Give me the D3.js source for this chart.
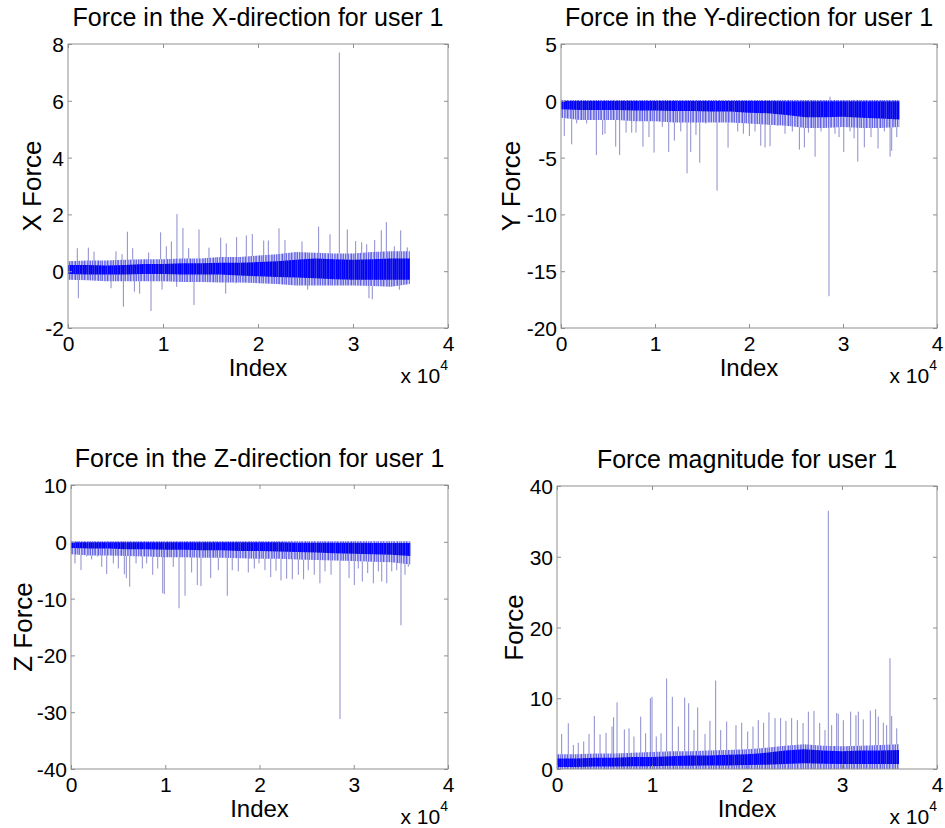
<!DOCTYPE html>
<html>
<head>
<meta charset="utf-8">
<script src="https://cdn.jsdelivr.net/npm/d3@7/dist/d3.min.js"></script>
<style>
  html, body { margin: 0; padding: 0; background: #fff; }
  svg { display: block; font-family: "Liberation Sans", Arial, Helvetica, sans-serif; }
</style>
</head>
<body>
<svg id="chart" width="945" height="828"></svg>
<script>
// ---------------- DATA ----------------
const indexTicks = [0, 10000, 20000, 30000, 40000];
const indexTickLabels = ["0", "1", "2", "3", "4"];
const titles = ["Force in the X-direction for user 1", "Force in the Y-direction for user 1",
                "Force in the Z-direction for user 1", "Force magnitude for user 1"];
const yLabels = ["X Force", "Y Force", "Z Force", "Force"];
const xLabel = "Index";

const xValueTicks = [-2, 0, 2, 4, 6, 8];
const yValueTicks = [-20, -15, -10, -5, 0, 5];
const zValueTicks = [-40, -30, -20, -10, 0, 10];
const magValueTicks = [0, 10, 20, 30, 40];

// envelope sample positions (index)
const envIndex = [0, 2000, 4000, 6000, 8000, 10000, 12000, 14000, 16000, 18000,
                  20000, 22000, 24000, 26000, 28000, 30000, 32000, 34000, 36000];

// X force: dense core band and light outer band
const xInnerHi = [0.22, 0.22, 0.2, 0.22, 0.25, 0.25, 0.28, 0.28, 0.3, 0.3, 0.32, 0.35, 0.4, 0.45, 0.42, 0.4, 0.42, 0.45, 0.45];
const xInnerLo = [-0.1, -0.12, -0.12, -0.12, -0.1, -0.1, -0.12, -0.12, -0.12, -0.15, -0.18, -0.2, -0.22, -0.25, -0.28, -0.3, -0.3, -0.3, -0.3];
const xOuterHi = [0.35, 0.38, 0.38, 0.4, 0.42, 0.42, 0.45, 0.45, 0.5, 0.5, 0.55, 0.6, 0.68, 0.65, 0.62, 0.62, 0.68, 0.7, 0.7];
const xOuterLo = [-0.3, -0.32, -0.35, -0.35, -0.35, -0.35, -0.38, -0.38, -0.4, -0.4, -0.42, -0.45, -0.5, -0.5, -0.5, -0.5, -0.52, -0.55, -0.45];
const xSpikes = [[980, 0.81], [2140, 0.83], [2740, 0.69], [5050, 0.7], [5690, 0.6], [6250, 1.39], [6810, 0.81],
  [8490, 0.66], [9750, 1.37], [10350, 0.88], [10880, 1.05], [11470, 2.01], [12100, 1.52], [12700, 0.81],
  [13790, 1.47], [14840, 0.83], [16070, 1.18], [16660, 0.98], [17750, 1.2], [18770, 1.26], [19400, 1.31],
  [20600, 1.08], [21090, 1.08], [22210, 1.51], [22840, 1.1], [24630, 1.05], [26380, 1.57], [27580, 1.3],
  [28560, 7.7], [29400, 1.47], [30280, 1.06], [30910, 1.02], [31440, 0.95], [32280, 1.1], [32980, 1.44],
  [33510, 1.73], [34350, 0.88], [35020, 1.44], [35720, 0.84],
  [1090, -0.95], [4530, -0.6], [5830, -1.25], [6990, -0.72], [7540, -0.79], [8740, -1.4], [9900, -0.65],
  [11440, -0.55], [13260, -1.19], [16600, -0.79], [17680, -0.42], [25230, -0.65], [31680, -0.95],
  [32030, -0.99], [34880, -0.65]];

// Y force
const yInnerHi = [-0.02, -0.02, -0.02, -0.02, -0.02, -0.02, -0.02, -0.02, -0.02, -0.02, -0.02, -0.02, -0.03, -0.05, -0.05, -0.05, -0.05, -0.05, -0.05];
const yInnerLo = [-0.75, -0.8, -0.8, -0.8, -0.85, -0.85, -0.9, -0.9, -0.95, -0.95, -1.05, -1.1, -1.25, -1.45, -1.45, -1.4, -1.5, -1.55, -1.65];
const yOuterHi = [0.08, 0.08, 0.08, 0.08, 0.08, 0.08, 0.08, 0.08, 0.08, 0.08, 0.08, 0.08, 0.08, 0.08, 0.08, 0.08, 0.08, 0.08, 0.08];
const yOuterLo = [-1.5, -1.7, -1.7, -1.7, -1.8, -1.8, -1.9, -1.9, -1.9, -1.9, -2.0, -2.1, -2.2, -2.4, -2.4, -2.3, -2.4, -2.4, -2.3];
const ySpikes = [[350, -3.1], [1140, -3.83], [1670, -1.98], [2730, -2.0], [3760, -4.77], [4430, -3.0],
  [4680, -2.9], [5820, -4.04], [6240, -4.77], [6920, -2.8], [7520, -2.8], [7980, -2.8], [8720, -4.04],
  [9360, -3.2], [9900, -4.56], [10780, -2.3], [11460, -4.5], [12060, -3.5], [12740, -2.7], [13410, -6.39],
  [13800, -4.5], [14360, -3.0], [14760, -5.45], [15400, -2.0], [16600, -7.91], [17770, -4.12], [18800, -2.7],
  [19400, -2.9], [20040, -3.1], [20640, -2.7], [21250, -3.95], [21710, -4.1], [22240, -4.0], [23010, -2.2],
  [23830, -2.9], [24610, -2.7], [25360, -4.3], [25890, -4.1], [26320, -2.8], [27030, -4.92], [27660, -2.7],
  [28510, -17.2], [29150, -2.9], [29580, -3.2], [30080, -4.5], [30750, -2.7], [31180, -3.3], [31570, -5.36],
  [32270, -4.1], [32980, -3.2], [33730, -4.2], [34400, -2.7], [35010, -4.92], [35180, -4.4], [35720, -3.2],
  [28620, 0.36]];

// Z force
const zInnerHi = [-0.1, -0.1, -0.1, -0.1, -0.1, -0.1, -0.1, -0.1, -0.1, -0.1, -0.1, -0.1, -0.15, -0.15, -0.15, -0.15, -0.2, -0.2, -0.2];
const zInnerLo = [-1.1, -1.2, -1.2, -1.3, -1.3, -1.4, -1.4, -1.5, -1.5, -1.6, -1.6, -1.7, -1.8, -1.9, -2.0, -2.1, -2.2, -2.3, -2.5];
const zOuterHi = [0.1, 0.1, 0.1, 0.1, 0.1, 0.1, 0.1, 0.1, 0.1, 0.1, 0.1, 0.1, 0.1, 0.1, 0.1, 0.1, 0.1, 0.1, 0.1];
const zOuterLo = [-2.2, -2.4, -2.4, -2.5, -2.6, -2.7, -2.7, -2.8, -2.8, -2.9, -3.0, -3.0, -3.1, -3.2, -3.3, -3.4, -3.5, -3.6, -4.0];
const zSpikes = [[420, -3.8], [1060, -4.97], [1660, -2.6], [2190, -3.1], [2790, -2.6], [3260, -4.4], [3790, -5.67],
  [4490, -3.8], [5020, -4.7], [5660, -5.7], [5870, -6.4], [6230, -7.9], [6900, -3.8], [7570, -4.7], [8030, -3.8],
  [8670, -5.8], [9200, -4.7], [9730, -9.07], [9900, -9.2], [10850, -4.4], [11460, -11.7], [12100, -9.5],
  [12800, -5.4], [13400, -7.6], [13790, -7.8], [14820, -6.4], [15630, -5.0], [16580, -9.5], [17110, -5.0],
  [17750, -5.2], [18810, -5.4], [19450, -4.7], [19950, -3.8], [20580, -5.0], [21190, -6.2], [21750, -5.1],
  [22280, -6.8], [22880, -6.5], [23480, -6.6], [24120, -5.8], [24680, -6.6], [25170, -5.0], [25810, -5.8],
  [26410, -7.3], [26950, -5.2], [27590, -5.8], [28540, -31.2], [29500, -6.4], [30060, -7.6], [30480, -4.7],
  [30910, -7.0], [31480, -5.5], [32080, -7.3], [32610, -5.2], [32970, -7.0], [33500, -7.3], [34030, -5.2],
  [34560, -5.0], [35010, -14.7], [35440, -5.8], [35790, -4.4]];

// Force magnitude
const mInnerHi = [1.5, 1.5, 1.6, 1.6, 1.7, 1.7, 1.8, 1.9, 1.9, 2.0, 2.1, 2.3, 2.6, 2.8, 2.6, 2.5, 2.6, 2.6, 2.7];
const mInnerLo = [0.3, 0.3, 0.35, 0.35, 0.4, 0.4, 0.45, 0.45, 0.5, 0.5, 0.55, 0.6, 0.7, 0.8, 0.75, 0.7, 0.7, 0.7, 0.7];
const mOuterHi = [2.1, 2.1, 2.2, 2.2, 2.3, 2.4, 2.5, 2.5, 2.6, 2.7, 2.8, 3.0, 3.3, 3.5, 3.3, 3.2, 3.3, 3.4, 3.5];
const mOuterLo = [0, 0, 0, 0, 0, 0, 0, 0, 0, 0, 0, 0, 0, 0, 0, 0, 0, 0, 0];
const mSpikes = [[490, 4.95], [1190, 6.46], [1720, 3.4], [2240, 3.7], [2810, 3.9], [3370, 4.95], [3930, 7.5],
  [4530, 4.9], [5160, 5.1], [5790, 6.0], [5960, 7.3], [6320, 9.43], [7090, 5.6], [7580, 5.75], [8100, 4.6],
  [8810, 7.4], [9330, 5.05], [9830, 10.0], [10000, 10.2], [10450, 4.6], [10950, 5.05], [11540, 12.8],
  [12140, 10.2], [12770, 6.0], [13440, 10.1], [13860, 9.3], [14420, 5.5], [14810, 8.7], [15580, 4.95],
  [16100, 6.8], [16700, 12.5], [17230, 5.5], [17860, 6.7], [18840, 6.2], [19440, 6.55], [20070, 5.3],
  [20630, 6.0], [21190, 6.9], [21750, 6.55], [22310, 8.0], [22950, 7.2], [23540, 7.2], [24100, 6.8],
  [24700, 7.2], [25300, 6.9], [25900, 6.5], [26460, 8.1], [27050, 8.2], [27650, 6.5], [28210, 5.5],
  [28560, 36.5], [28910, 6.2], [29440, 7.9], [29610, 7.8], [30140, 6.9], [30910, 8.1], [31470, 7.6],
  [31720, 8.1], [32240, 7.0], [32980, 8.25], [33540, 8.45], [33820, 7.4], [34350, 6.55], [34700, 6.2],
  [35050, 15.66], [35230, 7.5], [35760, 5.75]];

// ---------------- LAYOUT / STYLE ----------------
const panels = [
  { title: titles[0], ylabel: yLabels[0], domain: [-2, 8], ticks: xValueTicks,
    box: { l: 68, r: 448, t: 44, b: 328 }, base: 0.1,
    env: { ih: xInnerHi, il: xInnerLo, oh: xOuterHi, ol: xOuterLo }, spikes: xSpikes, ylabX: 41 },
  { title: titles[1], ylabel: yLabels[1], domain: [-20, 5], ticks: yValueTicks,
    box: { l: 561, r: 937, t: 44, b: 328 }, base: -0.5,
    env: { ih: yInnerHi, il: yInnerLo, oh: yOuterHi, ol: yOuterLo }, spikes: ySpikes, ylabX: 520 },
  { title: titles[2], ylabel: yLabels[2], domain: [-40, 10], ticks: zValueTicks,
    box: { l: 71, r: 448, t: 485, b: 769 }, base: -0.8,
    env: { ih: zInnerHi, il: zInnerLo, oh: zOuterHi, ol: zOuterLo }, spikes: zSpikes, ylabX: 32 },
  { title: titles[3], ylabel: yLabels[3], domain: [0, 40], ticks: magValueTicks,
    box: { l: 557, r: 937, t: 486, b: 769 }, base: 1.0,
    env: { ih: mInnerHi, il: mInnerLo, oh: mOuterHi, ol: mOuterLo }, spikes: mSpikes, ylabX: 523 }
];

const svg = d3.select("#chart");
const axisColor = "#8f8f8f";

// irregular stripe textures: a fill style that gives the bands a dense "many samples" look
const defs = svg.append("defs");
function stripes(id, cols) {
  const pat = defs.append("pattern").attr("id", id).attr("patternUnits", "userSpaceOnUse")
    .attr("width", cols.length).attr("height", 10);
  cols.forEach((c, i) => pat.append("rect").attr("x", i).attr("y", 0).attr("width", 1).attr("height", 10).attr("fill", c));
}
stripes("outerTex", ["#6a6ae4", "#b4b4f2", "#8686ea", "#7272e6", "#d0d0f6", "#9a9aee", "#5e5ee2",
  "#c0c0f4", "#8080e8", "#a6a6f0", "#6c6ce4", "#dadaf8", "#7c7ce8", "#9090ec", "#b8b8f2",
  "#6262e2", "#a0a0ee", "#cacaf6", "#7a7ae6", "#8e8eea", "#acacf0", "#6868e4", "#d4d4f6"]);
stripes("innerTex", ["#0000ff", "#1a1af2", "#0000fa", "#2c2cec", "#0808f6", "#0000ff", "#3636e8",
  "#0404fc", "#1212f4", "#0000ff", "#2424ee", "#0a0af8", "#4040e6", "#0000fc", "#1616f2",
  "#0000ff", "#2020f0", "#0606fa", "#3030ea"]);

panels.forEach((p, pi) => {
  const b = p.box;
  const x = d3.scaleLinear().domain([0, 40000]).range([b.l, b.r]);
  const y = d3.scaleLinear().domain(p.domain).range([b.b, b.t]);
  const g = svg.append("g");

  g.append("rect").attr("x", b.l).attr("y", b.t).attr("width", b.r - b.l).attr("height", b.b - b.t)
    .attr("fill", "#fff");

  const clipId = "clip" + pi;
  g.append("clipPath").attr("id", clipId).append("rect")
    .attr("x", b.l).attr("y", b.t).attr("width", b.r - b.l).attr("height", b.b - b.t);
  const plot = g.append("g").attr("clip-path", `url(#${clipId})`);

  const env = envIndex.map((ix, i) => ({ ix, ih: p.env.ih[i], il: p.env.il[i], oh: p.env.oh[i], ol: p.env.ol[i] }));

  // spikes
  plot.selectAll("line.spike").data(p.spikes).enter().append("line")
    .attr("class", "spike")
    .attr("x1", d => x(d[0])).attr("x2", d => x(d[0]))
    .attr("y1", y(p.base)).attr("y2", d => y(d[1]))
    .attr("stroke", "#7878c4").attr("stroke-width", 1).attr("stroke-opacity", 0.85);

  // outer (light) band
  plot.append("path").datum(env)
    .attr("d", d3.area().x(d => x(d.ix)).y0(d => y(d.ol)).y1(d => y(d.oh)))
    .attr("fill", "url(#outerTex)");
  // dense core band
  plot.append("path").datum(env)
    .attr("d", d3.area().x(d => x(d.ix)).y0(d => y(d.il)).y1(d => y(d.ih)))
    .attr("fill", "url(#innerTex)");

  // axes (ticks inside, MATLAB box style)
  const fmt = d => String(d);
  const gl = g.append("g").attr("transform", `translate(${b.l},0)`)
    .call(d3.axisLeft(y).tickValues(p.ticks).tickSize(-4).tickPadding(4).tickFormat(fmt));
  const gb = g.append("g").attr("transform", `translate(0,${b.b})`)
    .call(d3.axisBottom(x).tickValues(indexTicks).tickSize(-4).tickPadding(8)
      .tickFormat((d, i) => indexTickLabels[i]));
  const gt = g.append("g").attr("transform", `translate(0,${b.t})`)
    .call(d3.axisTop(x).tickValues(indexTicks).tickSize(-4).tickFormat(""));
  const gr = g.append("g").attr("transform", `translate(${b.r},0)`)
    .call(d3.axisRight(y).tickValues(p.ticks).tickSize(-4).tickFormat(""));
  [gl, gb, gt, gr].forEach(a => {
    a.select(".domain").remove();
    a.selectAll(".tick line").attr("stroke", axisColor);
    a.selectAll("text").attr("fill", "#000").style("font-size", "21px")
      .style("font-family", '"Liberation Sans", Arial, sans-serif');
  });
  gl.selectAll(".tick text").attr("dy", "0.36em");
  gb.selectAll(".tick text").attr("dy", "0.71em");

  g.append("rect").attr("x", b.l).attr("y", b.t).attr("width", b.r - b.l).attr("height", b.b - b.t)
    .attr("fill", "none").attr("stroke", axisColor).attr("stroke-width", 1);

  // title
  g.append("text").attr("x", (b.l + b.r) / 2).attr("y", b.t - 18)
    .attr("text-anchor", "middle").style("font-size", "25px").text(p.title);
  // x label
  g.append("text").attr("x", (b.l + b.r) / 2).attr("y", b.b + 48)
    .attr("text-anchor", "middle").style("font-size", "24px").text(xLabel);
  // y label
  g.append("text").attr("transform", `translate(${p.ylabX},${(b.t + b.b) / 2}) rotate(-90)`)
    .attr("text-anchor", "middle").style("font-size", "26px").text(p.ylabel);
  // exponent label "x 10^4"
  const ex = g.append("text").attr("x", b.r).attr("y", b.b + 55).attr("text-anchor", "end")
    .style("font-size", "21px");
  ex.append("tspan").text("x 10");
  ex.append("tspan").attr("dy", -13).style("font-size", "14px").text("4");
});
</script>
</body>
</html>
